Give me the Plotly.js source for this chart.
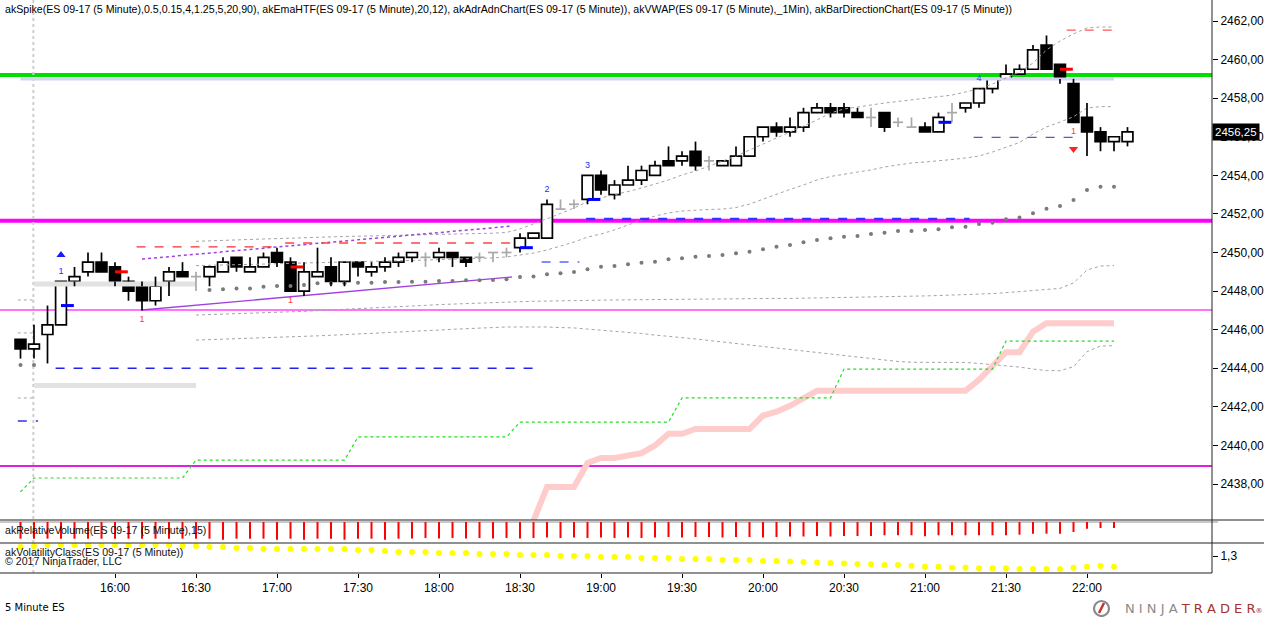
<!DOCTYPE html>
<html><head><meta charset="utf-8">
<script src="https://cdn.plot.ly/plotly-3.0.1.min.js"></script>
<style>html,body{margin:0;padding:0;background:#fff;}#chart{width:1264px;height:617px;}</style>
</head><body><div id="chart"></div>
<script>
// ---------- DATA ----------
// bar index: 0 = 16:00 bar, one step = 5 minutes (first bar 15:25)
const barIndex = [-7,-6,-5,-4,-3,-2,-1,0,1,2,3,4,5,6,7,8,9,10,11,12,13,14,15,16,17,18,19,20,21,22,23,24,25,26,27,28,29,30,31,32,33,34,35,36,37,38,39,40,41,42,43,44,45,46,47,48,49,50,51,52,53,54,55,56,57,58,59,60,61,62,63,64,65,66,67,68,69,70,71,72,73,74,75];
const tickIndex = [0,6,12,18,24,30,36,42,48,54,60,66,72];
const tickTime = ['16:00','16:30','17:00','17:30','18:00','18:30','19:00','19:30','20:00','20:30','21:00','21:30','22:00'];
const priceTicks = [2438,2440,2442,2444,2446,2448,2450,2452,2454,2456,2458,2460,2462];
const priceTickText = ['2438,00','2440,00','2442,00','2444,00','2446,00','2448,00','2450,00','2452,00','2454,00','2456,00','2458,00','2460,00','2462,00'];

const open = [2445.5,2445.0,2445.75,2446.25,2448.5,2449.0,2449.5,
2449.25,2448.5,2448.25,2447.5,2448.5,2449.0,2448.75,2448.75,2449.0,2449.75,2449.0,2449.25,2450.0,2449.5,
2448.0,2448.75,2449.25,2448.5,2449.5,2449.0,2449.25,2449.5,2449.75,2449.75,2449.75,2450.0,2449.75,2449.75,
2450.0,2450.0,2450.25,2450.75,2450.75,2452.25,2452.5,2452.75,2454.0,2453.0,2453.5,2453.75,2454.0,2454.75,
2454.75,2455.25,2454.75,2454.5,2454.5,2455.0,2456.0,2456.5,2456.25,2456.5,2457.25,2457.5,2457.5,2457.25,
2457.0,2457.25,2456.75,2456.5,2456.5,2456.25,2457.25,2457.5,2457.75,2458.5,2459.0,2459.25,2459.5,2460.75,
2459.75,2458.75,2457.0,2456.25,2455.75,2455.75];
const high = [2445.5,2446.25,2447.25,2448.5,2449.25,2450.0,2450.0,
2449.5,2448.75,2448.5,2448.75,2449.25,2449.5,2449.0,2449.25,2449.75,2449.75,2449.75,2450.0,2450.25,2449.75,
2449.5,2450.25,2449.75,2449.5,2449.5,2449.5,2449.75,2450.0,2450.0,2450.0,2450.25,2450.0,2449.75,2450.0,
2450.0,2450.25,2451.0,2451.0,2452.75,2452.75,2452.75,2454.0,2454.25,2453.75,2454.5,2454.5,2454.75,2455.5,
2455.25,2455.75,2455.0,2454.75,2455.5,2456.0,2456.5,2456.75,2457.0,2457.5,2457.75,2457.75,2457.75,2457.5,
2457.5,2457.25,2457.0,2457.0,2456.75,2457.25,2457.75,2457.75,2458.5,2459.0,2459.75,2459.75,2460.75,2461.25,
2459.75,2459.0,2457.75,2456.5,2456.0,2456.5];
const low = [2444.5,2444.5,2444.25,2446.25,2448.25,2448.75,2449.0,
2448.25,2447.5,2447.0,2447.25,2447.75,2448.75,2448.0,2448.25,2449.0,2449.0,2449.0,2449.25,2449.25,2448.0,
2447.75,2448.75,2448.25,2448.25,2448.75,2448.75,2449.0,2449.25,2449.5,2449.25,2449.5,2449.25,2449.25,2449.5,
2449.5,2449.75,2450.0,2450.75,2450.75,2452.25,2452.25,2452.5,2453.0,2452.75,2453.5,2453.5,2454.0,2454.5,
2454.5,2454.25,2454.25,2454.5,2454.5,2455.0,2455.75,2456.0,2456.0,2456.25,2457.25,2457.0,2457.0,2457.0,
2456.5,2456.25,2456.5,2456.5,2456.25,2456.25,2456.75,2457.25,2457.5,2458.25,2459.0,2459.25,2459.5,2459.5,
2458.75,2456.75,2455.0,2455.25,2455.25,2455.5];
const close = [2445.0,2445.25,2446.25,2448.5,2448.75,2449.5,2449.0,
2448.5,2448.0,2447.5,2448.25,2449.0,2448.75,2448.75,2449.25,2449.5,2449.25,2449.25,2449.75,2449.5,2448.0,
2449.0,2449.0,2448.5,2449.5,2449.25,2449.25,2449.5,2449.75,2450.0,2449.75,2450.0,2449.75,2449.5,2449.75,
2450.0,2450.0,2450.75,2451.0,2452.5,2452.25,2452.5,2454.0,2453.25,2453.5,2453.75,2454.25,2454.5,2454.5,
2455.0,2454.5,2454.75,2454.75,2455.0,2456.0,2456.5,2456.25,2456.5,2457.25,2457.5,2457.25,2457.25,2457.0,
2457.0,2456.5,2456.75,2456.5,2456.25,2457.0,2457.25,2457.75,2458.5,2459.0,2459.25,2459.5,2460.5,2459.5,
2459.0,2456.75,2456.25,2455.75,2456.0,2456.25];

// akEmaHTF bands (bars 6..74)
const bandUpperOuter = [2450.58,2450.61,2450.63,2450.65,2450.67,2450.70,2450.72,2450.75,2450.77,2450.79,
2450.81,2450.83,2450.84,2450.86,2450.88,2450.89,2450.91,2450.92,2450.94,2450.95,
2450.97,2450.99,2451.00,2451.04,2451.22,2451.48,2451.74,2452.02,2452.31,2452.63,
2452.83,2452.98,2453.16,2453.34,2453.55,2453.76,2454.02,2454.22,2454.48,2454.74,
2455.00,2455.31,2455.62,2455.94,2456.25,2456.52,2456.87,2457.23,2457.44,2457.54,
2457.65,2457.75,2457.83,2457.91,2457.98,2458.06,2458.16,2458.32,2458.48,2458.73,
2459.05,2459.36,2459.82,2460.50,2460.96,2461.33,2461.64,2461.69,2461.69];
const bandUpperInner = [2449.32,2449.33,2449.35,2449.37,2449.38,2449.40,2449.42,2449.43,2449.46,2449.47,
2449.49,2449.51,2449.52,2449.54,2449.56,2449.57,2449.59,2449.61,2449.63,2449.64,
2449.66,2449.68,2449.72,2449.77,2449.87,2449.97,2450.13,2450.34,2450.54,2450.80,
2450.96,2451.17,2451.43,2451.68,2451.89,2452.05,2452.15,2452.20,2452.23,2452.25,
2452.33,2452.51,2452.77,2453.03,2453.27,2453.50,2453.76,2453.94,2454.07,2454.17,
2454.28,2454.43,2454.54,2454.64,2454.69,2454.74,2454.82,2454.90,2455.00,2455.21,
2455.47,2455.70,2456.14,2456.51,2456.76,2457.04,2457.49,2457.56,2457.56];
const bandLowerInner = [2446.76,2446.78,2446.80,2446.82,2446.84,2446.86,2446.89,2446.92,2446.95,2446.99,
2447.02,2447.06,2447.09,2447.12,2447.16,2447.20,2447.23,2447.26,2447.30,2447.33,
2447.36,2447.38,2447.41,2447.43,2447.45,2447.47,2447.49,2447.50,2447.51,2447.52,
2447.53,2447.54,2447.55,2447.56,2447.56,2447.57,2447.57,2447.58,2447.58,2447.59,
2447.59,2447.60,2447.61,2447.62,2447.62,2447.63,2447.64,2447.65,2447.66,2447.67,
2447.68,2447.69,2447.71,2447.72,2447.75,2447.77,2447.79,2447.81,2447.84,2447.87,
2447.92,2447.98,2448.03,2448.08,2448.14,2448.42,2449.09,2449.30,2449.32];
const bandLowerOuter = [2445.46,2445.48,2445.51,2445.53,2445.55,2445.57,2445.59,2445.62,2445.65,2445.68,
2445.71,2445.74,2445.78,2445.81,2445.85,2445.88,2445.92,2445.95,2445.98,2446.02,
2446.06,2446.09,2446.11,2446.14,2446.15,2446.15,2446.14,2446.11,2446.09,2446.03,
2445.98,2445.93,2445.86,2445.80,2445.72,2445.66,2445.59,2445.52,2445.44,2445.36,
2445.28,2445.21,2445.13,2445.05,2444.97,2444.89,2444.82,2444.74,2444.66,2444.58,
2444.51,2444.43,2444.35,2444.31,2444.31,2444.31,2444.31,2444.30,2444.25,2444.19,
2444.14,2444.06,2443.96,2443.88,2443.87,2444.08,2444.86,2445.15,2445.17];

// akVWAP dots
const vwapIdx = [-7,-6,7,8,9,10,11,12,13,14,15,16,17,18,19,20,21,22,23,24,25,26,27,28,29,30,31,32,33,34,35,36,37,38,39,40,41,42,43,44,45,46,47,48,49,50,51,52,53,54,55,56,57,58,59,60,61,62,63,64,65,66,67,68,69,70,71,72,73,74];
const vwap = [2444.17,2444.17,
2448.06,2448.09,2448.14,2448.14,2448.23,2448.26,2448.26,2448.32,2448.40,
2448.40,2448.40,2448.43,2448.43,2448.47,2448.47,2448.49,2448.49,2448.52,2448.52,
2448.56,2448.56,2448.57,2448.61,2448.73,2448.75,2448.87,2448.92,2448.99,2449.13,
2449.26,2449.30,2449.39,2449.47,2449.52,2449.65,2449.70,2449.78,2449.82,2449.87,
2449.96,2450.04,2450.17,2450.30,2450.39,2450.53,2450.65,2450.74,2450.82,2450.86,
2450.96,2451.03,2451.11,2451.11,2451.17,2451.20,2451.31,2451.34,2451.48,2451.54,
2451.72,2451.82,2452.03,2452.27,2452.41,2452.72,2453.24,2453.41,2453.41];

// akAdrAdn step line (bars -7..74)
const adrStep = [2437.59,
2438.31,2438.31,2438.31,2438.31,2438.31,2438.31,2438.31,2438.31,2438.31,2438.31,2438.31,2438.31,
2439.24,2439.24,2439.24,2439.24,2439.24,2439.24,2439.24,2439.24,2439.24,2439.24,2439.24,2439.24,
2440.44,2440.44,2440.44,2440.44,2440.44,2440.44,2440.44,2440.44,2440.44,2440.44,2440.44,2440.44,
2441.21,2441.21,2441.21,2441.21,2441.21,2441.21,2441.21,2441.21,2441.21,2441.21,2441.21,2441.21,
2442.46,2442.46,2442.46,2442.46,2442.46,2442.46,2442.46,2442.46,2442.46,2442.46,2442.46,2442.46,
2443.96,2443.96,2443.96,2443.96,2443.96,2443.96,2443.96,2443.96,2443.96,2443.96,2443.96,2443.96,
2445.41,2445.41,2445.41,2445.41,2445.41,2445.41,2445.41,2445.41,2445.41];
// pink ADR line (bars 30..74)
const adrPink = [2434.9,2436.1,2437.84,2437.84,2437.84,2439.09,2439.35,2439.35,2439.45,2439.6,
2440.0,2440.6,2440.6,2440.85,2440.85,2440.85,2440.85,2440.85,2441.55,2441.75,
2442.05,2442.45,2442.84,2442.84,2442.84,2442.84,2442.84,2442.84,2442.84,2442.84,
2442.84,2442.84,2442.84,2442.84,2443.4,2444.1,2444.83,2444.83,2445.9,2446.33,
2446.33,2446.33,2446.33,2446.33,2446.33];

// horizontal levels across the whole chart
const levelPrices = [2459.20, 2451.65, 2447.02, 2438.93];
// projected level segments
const segPrice = [2450.29, 2450.49, 2444.00, 2441.27, 2449.51, 2451.74, 2455.97, 2461.53];
const segFrom  = [1.6, 12.6, -4.4, -7.2, 31.6, 34.9, 63.6, 70.5];
const segTo    = [12.2, 29.4, 31.5, -5.7, 34.4, 63.3, 71.0, 74.3];
const zonePrice = [2448.37, 2443.11];
const zoneFrom = [-6.0, -6.0];
const zoneTo = [6.0, 6.0];
const priorPrice = [2447.54, 2445.83, 2442.46];
const highLevel = 2459.0;
const sessionBreak = -6.05;
// channel
const chanIdx = [2, 29.4];
const chanUpper = [2449.66, 2451.37];
const chanLower = [2447.02, 2448.73];

// signals
const upSigIdx = [-4, 32, 35, 64];
const upSigText = ['1','2','3','4'];
const dnSigIdx = [2, 13, 71];
const dnSigText = ['1','1','1'];
const spikeUpIdx = [-4];
const spikeDnIdx = [71];
const longTickIdx = [-4, 30, 35, 61];
const longTickPrice = [2447.25, 2450.25, 2452.75, 2456.75];
const shortTickIdx = [0, 13, 70];
const shortTickPrice = [2449.0, 2449.25, 2459.5];

// akRelativeVolume (bars -7..74)
const relVol = [16.7,16.7,16.7,16.7,16.7,16.7,16.7,16.7,16.7,16.7,16.7,16.7,16.7,16.7,
16.7,17.7,16.7,16.7,16.7,17.7,16.7,17.7,16.7,16.7,17.7,16.7,16.7,17.7,16.7,
16.5,16,16.5,16,16.5,16,16.5,16,16.5,
16,15.5,16,15.5,16,15.5,16,15.5,16,15.5,
15,15.5,15,15,15.5,15,15,15.5,15,14.5,
14.5,14,14.5,14,14,
14,13.3,13.3,13.3,14.3,13.3,13.3,13.3,13.3,13.3,13.3,12.7,11.7,11.7,11.7,10,6.7,6,6];
// akVolatilityClass (bars -7..74)
const volClass = [1.39,1.40,1.41,1.41,1.41,1.41,1.41,1.41,1.41,1.41,1.41,1.41,1.40,1.40,
1.39,1.39,1.38,1.38,1.37,1.37,1.37,1.37,1.37,1.37,1.37,1.36,1.36,1.35,1.34,
1.34,1.34,1.33,1.33,1.33,1.32,1.32,1.32,1.31,1.31,
1.31,1.30,1.30,1.30,1.29,1.29,1.29,1.28,1.28,1.28,
1.27,1.27,1.27,1.26,1.26,1.26,1.25,1.25,1.245,1.24,
1.235,1.23,1.225,1.22,1.217,1.21,1.21,1.203,1.193,1.193,
1.183,1.183,1.177,1.177,1.177,1.17,1.17,1.17,1.17,1.183,1.193,1.20,1.193];

// ---------- BUILD ----------
const bandIdx = barIndex.slice(13, 82);
const indIdx = barIndex.slice(0, 82);
const pinkIdx = barIndex.slice(37, 82);
const at = i => barIndex.indexOf(i);

const upX=[],upBase=[],upLen=[],dnX=[],dnBase=[],dnLen=[],wickX=[],wickY=[],dojiX=[],dojiY=[];
barIndex.forEach((xi,k)=>{
  const o=open[k],h=high[k],l=low[k],c=close[k];
  const top=Math.max(o,c), bot=Math.min(o,c);
  if (o===c){ dojiX.push(xi-0.37,xi+0.37,null,xi,xi,null); dojiY.push(c,c,null,l,h,null); return; }
  if (c>o){ upX.push(xi); upBase.push(bot); upLen.push(top-bot); }
  else { dnX.push(xi); dnBase.push(bot); dnLen.push(top-bot); }
  if (h>top){ wickX.push(xi,xi,null); wickY.push(top,h,null); }
  if (l<bot){ wickX.push(xi,xi,null); wickY.push(l,bot,null); }
});

const traces = [];
const dotted = (x,y,color,w,dash)=>({type:'scatter',mode:'lines',x:x,y:y,line:{color:color,width:w,dash:dash||'solid'},hoverinfo:'skip',xaxis:'x',yaxis:'y'});

zonePrice.forEach((p,k)=>traces.push(dotted([zoneFrom[k],zoneTo[k]],[p,p],'#e2e2e2',5)));
priorPrice.forEach(p=>traces.push(dotted([-7.2,-6.1],[p,p],'#a8a8a8',1,'dot')));
traces.push(dotted([barIndex[0], indIdx[indIdx.length-1]],[highLevel,highLevel],'#d4d4f2',3));
traces.push(dotted(bandIdx,bandUpperOuter,'#a4a4a4',1,'dot'));
traces.push(dotted(bandIdx,bandUpperInner,'#a4a4a4',1,'dot'));
traces.push(dotted(bandIdx,bandLowerInner,'#a4a4a4',1,'dot'));
traces.push(dotted(bandIdx,bandLowerOuter,'#a4a4a4',1,'dot'));
traces.push(dotted(pinkIdx,adrPink,'#ffcccc',6));
traces.push(dotted(indIdx,adrStep,'#22dd22',1.2,'dot'));
traces.push(dotted(chanIdx,chanUpper,'#a040e0',1.5,'dot'));
traces.push(dotted(chanIdx,chanLower,'#a040e0',1.3));
const segColors = ['#ee3333','#ff4444','#2222ee','#3333dd','#8888ff','#3333ff','#5555dd','#ff5555'];
const segWidths = [1.4,1.4,1.5,1.5,2,2.5,1.2,1.2];
segPrice.forEach((p,k)=>traces.push(dotted([segFrom[k],segTo[k]],[p,p],segColors[k],segWidths[k],'dash')));
traces.push({type:'scatter',mode:'markers',x:vwapIdx,y:vwap,marker:{color:'#7a7a7a',size:4},hoverinfo:'skip',xaxis:'x',yaxis:'y'});
traces.push({type:'bar',x:upX,y:upLen,base:upBase,width:0.8,marker:{color:'#ffffff',line:{color:'#000',width:1.7}},hoverinfo:'skip',xaxis:'x',yaxis:'y'});
traces.push({type:'bar',x:dnX,y:dnLen,base:dnBase,width:0.8,marker:{color:'#000000',line:{color:'#000',width:1.7}},hoverinfo:'skip',xaxis:'x',yaxis:'y'});
traces.push(dotted(wickX,wickY,'#000',1.7));
traces.push(dotted(dojiX,dojiY,'#a8a8a8',1.7));
const tickSegs=(idx,pr)=>{const x=[],y=[];idx.forEach((i,k)=>{x.push(i,i+0.95,null);y.push(pr[k],pr[k],null);});return [x,y];};
let ts = tickSegs(longTickIdx,longTickPrice); traces.push(dotted(ts[0],ts[1],'#0000ff',3));
ts = tickSegs(shortTickIdx,shortTickPrice); traces.push(dotted(ts[0],ts[1],'#ff0000',3));
traces.push({type:'scatter',mode:'text',x:upSigIdx,y:upSigIdx.map(i=>high[at(i)]+0.5),text:upSigText,textfont:{color:'#2a2aff',size:9,family:'Liberation Sans, Arial'},hoverinfo:'skip',xaxis:'x',yaxis:'y'});
traces.push({type:'scatter',mode:'text',x:dnSigIdx,y:dnSigIdx.map(i=>low[at(i)]-0.5),text:dnSigText,textfont:{color:'#ff3a3a',size:9,family:'Liberation Sans, Arial'},hoverinfo:'skip',xaxis:'x',yaxis:'y'});
traces.push({type:'scatter',mode:'markers',x:spikeUpIdx,y:spikeUpIdx.map(i=>high[at(i)]+1.37),marker:{symbol:'triangle-up',size:8,color:'#1a1aff'},hoverinfo:'skip',xaxis:'x',yaxis:'y'});
traces.push({type:'scatter',mode:'markers',x:spikeDnIdx,y:spikeDnIdx.map(i=>low[at(i)]-1.38),marker:{symbol:'triangle-down',size:8,color:'#ff2020'},hoverinfo:'skip',xaxis:'x',yaxis:'y'});
const rvX=[],rvY=[]; indIdx.forEach((i,k)=>{rvX.push(i,i,null); rvY.push(0,relVol[k],null);});
traces.push({type:'scatter',mode:'lines',x:rvX,y:rvY,line:{color:'#ff0000',width:2},hoverinfo:'skip',xaxis:'x',yaxis:'y2'});
traces.push({type:'scatter',mode:'markers',x:indIdx,y:volClass,marker:{color:'#ffff00',size:6},hoverinfo:'skip',xaxis:'x',yaxis:'y3'});

const lastClose = close[close.length-1];
const fmt = v => v.toFixed(2).replace('.',',');

const H=573, W=1212;
const shapes = [];
const levelStyles = [{c:'#00e000',w:4},{c:'#ff00ff',w:4},{c:'#ff44ff',w:1.5},{c:'#e020e0',w:2}];
levelPrices.forEach((p,k)=>shapes.push({type:'line',xref:'paper',yref:'y',x0:0,x1:1,y0:p,y1:p,line:{color:levelStyles[k].c,width:levelStyles[k].w},layer:'below'}));
shapes.push({type:'line',xref:'x',yref:'paper',x0:sessionBreak,x1:sessionBreak,y0:0,y1:1,line:{color:'#cfcfcf',width:2,dash:'dot'},layer:'below'});
shapes.push({type:'line',xref:'paper',yref:'y2',x0:0,x1:1.005,y0:0,y1:0,line:{color:'#c8c8c8',width:2},layer:'below'});
shapes.push({type:'line',xref:'paper',yref:'paper',x0:0,x1:1264/W,y0:53/H,y1:53/H,line:{color:'#222',width:1}});
shapes.push({type:'line',xref:'paper',yref:'paper',x0:0,x1:1264/W,y0:30/H,y1:30/H,line:{color:'#222',width:1}});
shapes.push({type:'line',xref:'paper',yref:'paper',x0:0,x1:1,y0:0,y1:0,line:{color:'#222',width:1}});
shapes.push({type:'line',xref:'paper',yref:'paper',x0:1,x1:1,y0:0,y1:1,line:{color:'#222',width:1}});
shapes.push({type:'circle',xref:'paper',yref:'paper',x0:1094/W,x1:1109/W,y0:(H-616)/H,y1:(H-601)/H,line:{color:'#8a8a8a',width:2.2}});
shapes.push({type:'line',xref:'paper',yref:'paper',x0:1099/W,x1:1104/W,y0:(H-613)/H,y1:(H-603)/H,line:{color:'#c0392b',width:2.5}});

const fam = 'Liberation Sans, Arial, sans-serif';
const fs = 10.6;
const annotations = [
 {xref:'paper',yref:'paper',x:0,y:1,xanchor:'left',yanchor:'top',xshift:3,yshift:-1,showarrow:false,
  text:'akSpike(ES 09-17 (5 Minute),0.5,0.15,4,1.25,5,20,90), akEmaHTF(ES 09-17 (5 Minute),20,12), akAdrAdnChart(ES 09-17 (5 Minute)), akVWAP(ES 09-17 (5 Minute),_1Min), akBarDirectionChart(ES 09-17 (5 Minute))',
  font:{family:fam,size:fs,color:'#000'}},
 {xref:'paper',yref:'paper',x:0,y:(H-530)/H,xanchor:'left',yanchor:'middle',xshift:3,showarrow:false,text:'akRelativeVolume(ES 09-17 (5 Minute),15)',font:{family:fam,size:fs,color:'#111'}},
 {xref:'paper',yref:'paper',x:0,y:(H-552)/H,xanchor:'left',yanchor:'middle',xshift:3,showarrow:false,text:'akVolatilityClass(ES 09-17 (5 Minute))',font:{family:fam,size:fs,color:'#111'}},
 {xref:'paper',yref:'paper',x:0,y:(H-561)/H,xanchor:'left',yanchor:'middle',xshift:3,showarrow:false,text:'© 2017 NinjaTrader, LLC',font:{family:fam,size:fs,color:'#111'}},
 {xref:'paper',yref:'paper',x:0,y:(H-607)/H,xanchor:'left',yanchor:'middle',xshift:3,showarrow:false,text:'5 Minute ES',font:{family:'DejaVu Sans, sans-serif',size:10,color:'#000'}},
 {xref:'paper',yref:'paper',x:1264/W,y:(H-608)/H,xanchor:'right',yanchor:'middle',showarrow:false,
  text:'<span style="color:#8a8a8a">N I N J A </span><span style="color:#a8322b">T R A D E R</span><span style="color:#a8322b;font-size:7px">®</span>',
  font:{family:'DejaVu Sans, Liberation Sans, sans-serif',size:13,color:'#8a8a8a'}},
 {xref:'paper',yref:'y',x:1,y:lastClose,xanchor:'left',yanchor:'middle',xshift:0,showarrow:false,text:fmt(lastClose),
  bgcolor:'#000',borderpad:2,font:{family:fam,size:11.5,color:'#fff'}}
];

const layout = {
  width:1264,height:617,margin:{l:0,r:52,t:0,b:44},
  paper_bgcolor:'#fff',plot_bgcolor:'#fff',showlegend:false,barmode:'overlay',separators:',.',
  font:{family:fam,size:12,color:'#000'},
  xaxis:{range:[-115/13.5,(W-115)/13.5],anchor:'y3',showgrid:false,zeroline:false,tickmode:'array',tickvals:tickIndex,ticktext:tickTime,ticks:'outside',ticklen:4,tickcolor:'#000',showline:false,tickfont:{family:fam,size:12,color:'#000'},fixedrange:true},
  yaxis:{domain:[53/H,1],range:[2436.134,2463.089],side:'right',anchor:'x',showgrid:false,zeroline:false,tickmode:'array',tickvals:priceTicks,ticktext:priceTickText,ticks:'outside',ticklen:5,tickcolor:'#000',showline:false,tickfont:{family:fam,size:12,color:'#000'}},
  yaxis2:{domain:[30/H,53/H],range:[21,-2],anchor:'x',showgrid:false,zeroline:false,showticklabels:false,ticks:''},
  yaxis3:{domain:[0,30/H],range:[1.13,1.43],side:'right',anchor:'x',showgrid:false,zeroline:false,tickmode:'array',tickvals:[1.3],ticktext:['1,3'],ticks:'outside',ticklen:5,tickcolor:'#000',tickfont:{family:fam,size:12,color:'#000'}},
  shapes:shapes,annotations:annotations
};
Plotly.newPlot('chart',traces,layout,{staticPlot:true,displayModeBar:false});
</script></body></html>
